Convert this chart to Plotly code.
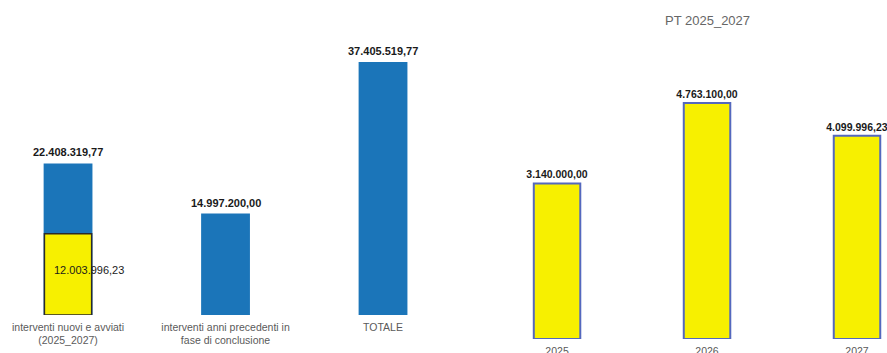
import plotly.graph_objects as go

# ---- data ----
left_categories = ["interventi nuovi e avviati<br>(2025_2027)",
                   "interventi anni precedenti in<br>fase di conclusione",
                   "TOTALE"]
left_values = [22408319.77, 14997200.00, 37405519.77]
overlay_category = ["interventi nuovi e avviati<br>(2025_2027)"]
overlay_values = [12003996.23]

right_title = "PT 2025_2027"
right_categories = ["2025", "2026", "2027"]
right_values = [3140000.00, 4763100.00, 4099996.23]


def fmt_it(v):
    s = f"{v:,.2f}"
    return s.replace(",", "X").replace(".", ",").replace("X", ".")


BLUE = "#1B75B9"
YELLOW = "#F7F000"
FONT = "Liberation Sans, Arial, sans-serif"
W, H = 887, 353

fig = go.Figure()

fig.add_trace(go.Bar(x=left_categories, y=left_values, width=0.31,
                     marker=dict(color=BLUE, line=dict(width=0)),
                     xaxis="x", yaxis="y", showlegend=False, hoverinfo="skip"))
fig.add_trace(go.Bar(x=overlay_category, y=overlay_values, width=0.30,
                     marker=dict(color=YELLOW, line=dict(color="#2a2a2a", width=1.5)),
                     xaxis="x", yaxis="y", showlegend=False, hoverinfo="skip"))
fig.add_trace(go.Bar(x=right_categories, y=right_values, width=0.31,
                     marker=dict(color=YELLOW, line=dict(color="#5468BE", width=2)),
                     text=[fmt_it(v) for v in right_values], textposition="outside",
                     constraintext="none", cliponaxis=False,
                     textfont=dict(family=FONT, size=10.5, color="#1a1a1a", weight="bold"),
                     xaxis="x2", yaxis="y2", showlegend=False, hoverinfo="skip"))

annotations = []
for c, v in zip(left_categories, left_values):
    annotations.append(dict(x=c, y=v, xref="x", yref="y", text=fmt_it(v),
                            showarrow=False, yanchor="middle", xanchor="center", yshift=11,
                            font=dict(family=FONT, size=11, color="#1a1a1a", weight="bold")))
for c, v in zip(overlay_category, overlay_values):
    annotations.append(dict(x=c, y=v / 2, xref="x", yref="y", text=fmt_it(v),
                            showarrow=False, xanchor="left", xshift=-16, yshift=4,
                            font=dict(family=FONT, size=11, color="#1a1a1a")))
annotations.append(dict(x=707 / W, y=1 - 20 / H, xref="paper", yref="paper", text=right_title,
                        showarrow=False, xanchor="center", yanchor="middle",
                        font=dict(family=FONT, size=13, color="#666666")))

fig.update_layout(
    width=W, height=H, margin=dict(l=0, r=0, t=0, b=0, autoexpand=False),
    paper_bgcolor="white", plot_bgcolor="rgba(0,0,0,0)",
    barmode="overlay",
    font=dict(family=FONT),
    annotations=annotations,
    xaxis=dict(type="category", domain=[0, 0.5], range=[-0.432, 2.384], showgrid=False,
               zeroline=False, showline=False, ticks="", ticklabelstandoff=4, automargin=False,
               tickfont=dict(size=10.5, color="#5a5a5a"), anchor="y"),
    yaxis=dict(domain=[38 / H, 1], range=[0, 315 * 0.14785e6], visible=False),
    xaxis2=dict(type="category", domain=[0.5, 1], range=[-0.757, 2.2], showgrid=False,
                zeroline=False, showline=False, ticks="", ticklabelstandoff=4, automargin=False,
                tickfont=dict(size=10.5, color="#5a5a5a"), anchor="y2"),
    yaxis2=dict(domain=[14 / H, 1], range=[0, 339 * 0.020183e6], visible=False, anchor="x2"),
)

fig.write_html("out.html", config={"displayModeBar": False},
               post_script="document.body.style.margin='0';document.body.style.overflow='hidden';")
